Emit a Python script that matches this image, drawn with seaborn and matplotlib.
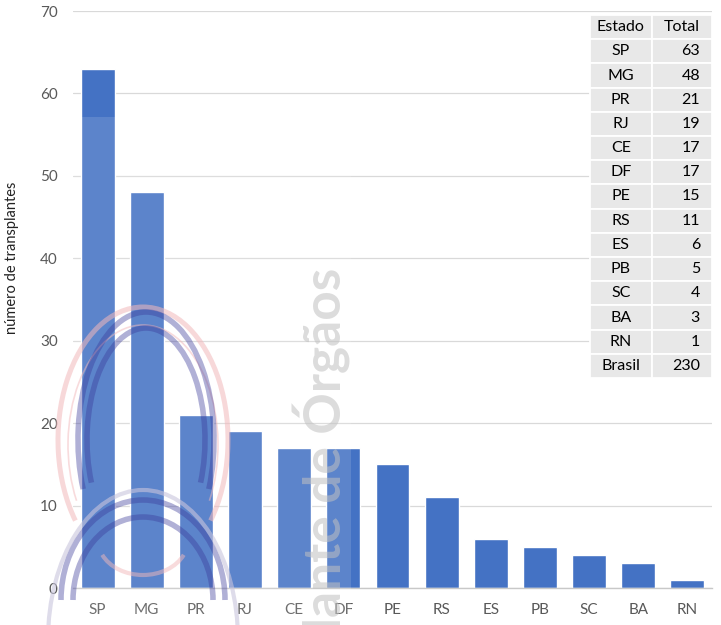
import matplotlib
matplotlib.use("Agg")
import matplotlib.pyplot as plt
from matplotlib.patches import Rectangle, Arc
import seaborn as sns
import pandas as pd

estados = ["SP", "MG", "PR", "RJ", "CE", "DF", "PE", "RS", "ES", "PB", "SC", "BA", "RN"]
totais = [63, 48, 21, 19, 17, 17, 15, 11, 6, 5, 4, 3, 1]
total_brasil = 230
y_ticks = [0, 10, 20, 30, 40, 50, 60, 70]
y_label = "número de transplantes"
table_header = ["Estado", "Total"]
watermark_text = "plante de Órgãos"

sns.set_theme(style="white")
plt.rcParams["font.family"] = ["Lato", "DejaVu Sans"]

df = pd.DataFrame({"estado": estados, "total": totais})

W, H = 721, 625
fig = plt.figure(figsize=(7.21, 6.25), dpi=100)
ax = fig.add_axes([73 / W, 1 - 588 / H, (712 - 73) / W, (588 - 11) / H])

sns.barplot(data=df, x="estado", y="total", color="#4472C4", saturation=1,
            width=0.69, ax=ax, zorder=2)

ax.set_ylim(0, 70)
ax.set_xlim(-0.5, len(estados) - 0.5)
ax.set_yticks(y_ticks)
ax.yaxis.grid(True, color="#D9D9D9", lw=0.9, zorder=0)
ax.set_axisbelow(True)
for s in ["top", "right", "left"]:
    ax.spines[s].set_visible(False)
ax.spines["bottom"].set_color("#C8C8C8")
ax.spines["bottom"].set_linewidth(1.0)
ax.tick_params(axis="both", length=0, labelsize=11, labelcolor="#595959")
ax.tick_params(axis="y", pad=11)
ax.tick_params(axis="x", pad=11)
ax.set_xlabel("")
ax.set_ylabel(y_label, fontsize=10.5, color="#222222")
ax.yaxis.set_label_coords((19 - 73) / (712 - 73), 0.572)

# table (upper right)
rows = [table_header] + [[e, str(t)] for e, t in zip(estados, totais)] + [["Brasil", str(total_brasil)]]
tx0, tx1, tx2 = 590, 651.5, 712
ty0, ty1 = 15, 378
rh = (ty1 - ty0) / len(rows)
ov = fig.add_axes([0, 0, 1, 1], zorder=5)
ov.set_xlim(0, W)
ov.set_ylim(H, 0)
ov.axis("off")
for i, (c1, c2) in enumerate(rows):
    top = ty0 + i * rh
    for (xa, xb) in [(tx0, tx1), (tx1, tx2)]:
        ov.add_patch(Rectangle((xa, top), xb - xa, rh, facecolor="#E8E8E8",
                               edgecolor="white", lw=1.3))
    yc = top + rh / 2
    ov.text((tx0 + tx1) / 2, yc, c1, ha="center", va="center", fontsize=11.5, color="black")
    if i == 0:
        ov.text((tx1 + tx2) / 2, yc, c2, ha="center", va="center", fontsize=11.5, color="black")
    else:
        ov.text(tx2 - 12, yc, c2, ha="right", va="center", fontsize=11.5, color="black")

# watermark overlay
wm = fig.add_axes([0, 0, 1, 1], zorder=4)
wm.set_xlim(0, W)
wm.set_ylim(0, H)
wm.axis("off")
wm.add_patch(Rectangle((60, 0), 351 - 60, H - 117, facecolor="white", alpha=0.13, lw=0))
def py(y):
    return H - y
wm.add_patch(Arc((143, py(440)), 170, 266, theta1=-50, theta2=230, color="#F2B8BB", lw=3.6, alpha=0.55))
wm.add_patch(Arc((143, py(445)), 150, 240, theta1=-40, theta2=220, color="#F2B8BB", lw=1.2, alpha=0.5))
wm.add_patch(Arc((146, py(440)), 136, 256, theta1=-38, theta2=218, color="#3A3A9A", lw=4, alpha=0.4))
wm.add_patch(Arc((146, py(440)), 118, 224, theta1=-38, theta2=218, color="#3A3A9A", lw=4, alpha=0.4))
wm.add_patch(Arc((143, py(600)), 164, 200, theta1=0, theta2=180, color="#3A3A9A", lw=4, alpha=0.4))
wm.add_patch(Arc((143, py(600)), 140, 166, theta1=0, theta2=180, color="#3A3A9A", lw=4, alpha=0.4))
wm.add_patch(Arc((143, py(640)), 190, 300, theta1=0, theta2=180, color="#C9C5DD", lw=3, alpha=0.6))
wm.add_patch(Arc((143, py(540)), 90, 70, theta1=200, theta2=340, color="#F2B8BB", lw=3, alpha=0.5))
wm.text(322, py(268), watermark_text, rotation=90, ha="center", va="top",
        fontsize=37, fontweight="bold", color="#C0C0C0", alpha=0.55)

fig.savefig("out.png", dpi=100)
